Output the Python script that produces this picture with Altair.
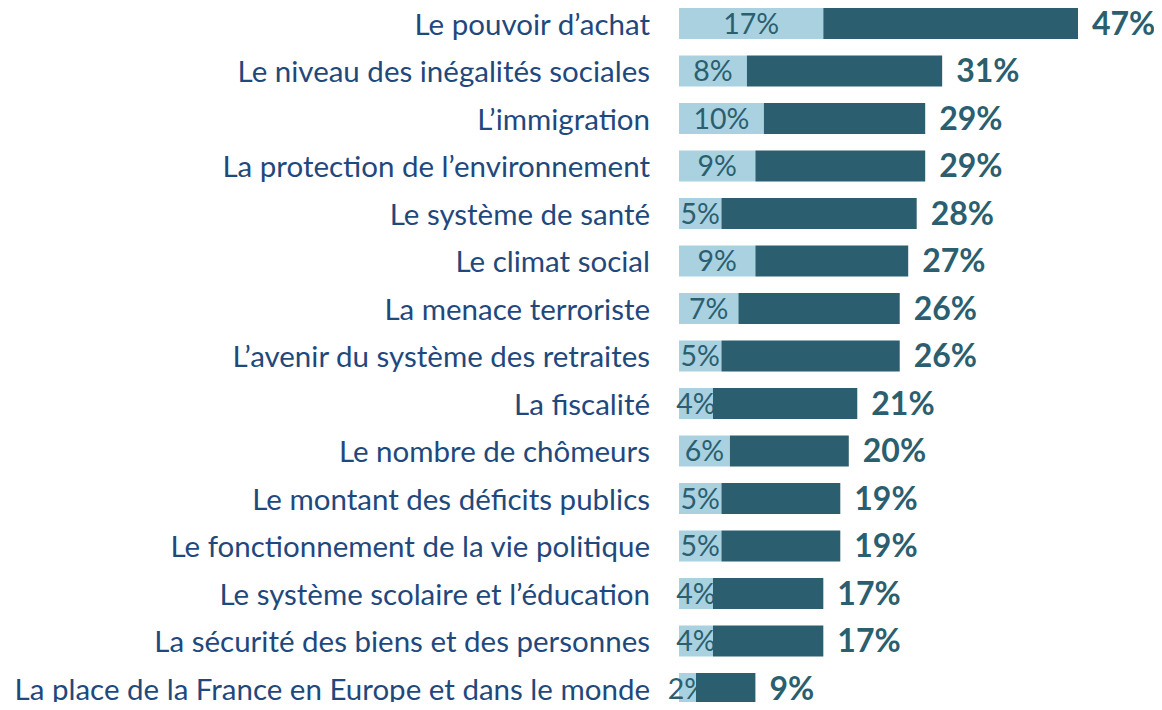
import altair as alt
import pandas as pd

categories = [
    "Le pouvoir d’achat",
    "Le niveau des inégalités sociales",
    "L’immigration",
    "La protection de l’environnement",
    "Le système de santé",
    "Le climat social",
    "La menace terroriste",
    "L’avenir du système des retraites",
    "La fiscalité",
    "Le nombre de chômeurs",
    "Le montant des déficits publics",
    "Le fonctionnement de la vie politique",
    "Le système scolaire et l’éducation",
    "La sécurité des biens et des personnes",
    "La place de la France en Europe et dans le monde",
]
first_choice = [17, 8, 10, 9, 5, 9, 7, 5, 4, 6, 5, 5, 4, 4, 2]
total = [47, 31, 29, 29, 28, 27, 26, 26, 21, 20, 19, 19, 17, 17, 9]

df = pd.DataFrame({
    "cat": categories,
    "idx": list(range(len(categories))),
    "first": first_choice,
    "total": total,
})

LIGHT = "#A9D1E0"
DARK = "#2B5F70"
TXT = "#1F497D"
FONT = "Lato"

H = 694
step = 47.5
d0 = -15.5 / step
d1 = d0 + H / step

yenc = alt.Y("idx:Q", scale=alt.Scale(domain=[d0, d1], reverse=True, nice=False, zero=False, padding=0), axis=None)
xscale = alt.Scale(domain=[0, 47], nice=False, padding=0)

base = alt.Chart(df).transform_calculate(
    mid="datum.first / 2",
    flab="datum.first + '%'",
    tlab="datum.total + '%'",
)

dark = base.mark_bar(color=DARK, size=31, orient="horizontal").encode(
    x=alt.X("first:Q", scale=xscale, axis=None),
    x2="total:Q",
    y=yenc,
)
light = base.mark_bar(color=LIGHT, size=31, orient="horizontal").encode(
    x=alt.X("first:Q", scale=xscale, axis=None),
    x2=alt.datum(0),
    y=yenc,
)
inner = base.mark_text(font=FONT, fontSize=28.5, color=DARK, align="center", baseline="middle", dy=1).encode(
    x=alt.X("mid:Q", scale=xscale, axis=None),
    y=yenc,
    text="flab:N",
)
tot = base.mark_text(font=FONT, fontSize=32, fontWeight="bold", color=DARK, align="left", baseline="middle", dx=14, dy=1).encode(
    x=alt.X("total:Q", scale=xscale, axis=None),
    y=yenc,
    text="tlab:N",
)
labels = base.mark_text(font=FONT, fontSize=29.5, color=TXT, align="right", baseline="middle", dy=2).encode(
    x=alt.value(-29),
    y=yenc,
    text="cat:N",
)

chart = alt.layer(light, dark, inner, tot, labels).properties(
    width=399,
    height=H,
    padding={"left": 671, "top": 0, "right": 76, "bottom": 0},
    autosize=alt.AutoSizeParams(type="none"),
).configure_view(stroke=None)

chart.save("out.html", embed_options={"renderer": "svg", "actions": False})
